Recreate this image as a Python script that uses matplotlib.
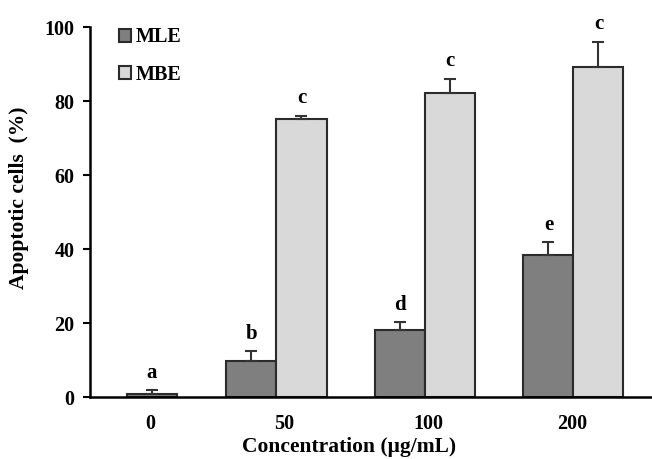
import matplotlib.pyplot as plt
import numpy as np

# Data
concentrations = ['0', '50', '100', '200']
group_pos = [0.16, 1, 2, 3]
tick_pos = [0.15, 1.05, 2.02, 2.99]
mle_vals = [0.8, 9.7, 18.1, 38.4]
mle_err = [1.1, 2.7, 2.1, 3.5]
mle_letters = ['a', 'b', 'd', 'e']
mbe_vals = [75.1, 82.1, 89.3]          # no MBE bar at 0
mbe_err = [1.0, 4.0, 6.7]
mbe_letters = ['c', 'c', 'c']

plt.rcParams['font.family'] = ['Liberation Serif', 'DejaVu Serif']
plt.rcParams['font.weight'] = 'bold'

fig = plt.figure(figsize=(6.52, 4.59), dpi=100)
ax = fig.add_axes([0.138, 0.135, 0.862, 0.806])

w = 0.337
mle_x = np.array([group_pos[0]] + [p - w / 2 for p in group_pos[1:]])
mbe_x = np.array([p + w / 2 for p in group_pos[1:]])

err_kw = dict(ecolor='#333333', elinewidth=1.5, capsize=4, capthick=1.5)
ax.bar(mle_x, mle_vals, w, color='#7f7f7f', edgecolor='#2b2b2b', lw=1.5,
       yerr=[np.zeros(len(mle_err)), mle_err], error_kw=err_kw, label='MLE', zorder=2)
ax.bar(mbe_x, mbe_vals, w, color='#d9d9d9', edgecolor='#2b2b2b', lw=1.5,
       yerr=[np.zeros(len(mbe_err)), mbe_err], error_kw=err_kw, label='MBE', zorder=2)

# significance letters
for x, v, e, t in zip(mle_x, mle_vals, mle_err, mle_letters):
    ax.text(x, v + e + 2.0, t, ha='center', va='bottom', fontsize=15, fontweight='bold')
for x, v, e, t in zip(mbe_x, mbe_vals, mbe_err, mbe_letters):
    ax.text(x, v + e + 2.0, t, ha='center', va='bottom', fontsize=15, fontweight='bold')

ax.set_xlim(-0.256, 3.529)
ax.set_ylim(0, 100)
ax.set_yticks([0, 20, 40, 60, 80, 100])
ax.set_xticks(tick_pos)
ax.set_xticklabels(concentrations)
ax.tick_params(axis='x', length=0, pad=12, labelsize=14.5)
ax.tick_params(axis='y', length=5, width=1.5, pad=6, labelsize=14.5)
for lab in ax.get_xticklabels() + ax.get_yticklabels():
    lab.set_fontweight('bold')

ax.spines['top'].set_visible(False)
ax.spines['right'].set_visible(False)
ax.spines['left'].set_linewidth(1.8)
ax.spines['bottom'].set_linewidth(1.8)

ax.set_ylabel('Apoptotic cells  (%)', fontsize=15.5, fontweight='bold')
ax.yaxis.set_label_coords(-0.108, 0.538)
ax.set_xlabel('Concentration (\u03bcg/mL)', fontsize=15.5, fontweight='bold')
ax.xaxis.set_label_coords(0.461, -0.108)

ax.legend(loc='upper left', bbox_to_anchor=(0.02, 1.048), frameon=False,
          handlelength=0.6, handleheight=0.6, handletextpad=0.2,
          labelspacing=0.85, prop={'size': 14.5, 'weight': 'bold'})

fig.savefig('out.png', dpi=100)
plt.close()
